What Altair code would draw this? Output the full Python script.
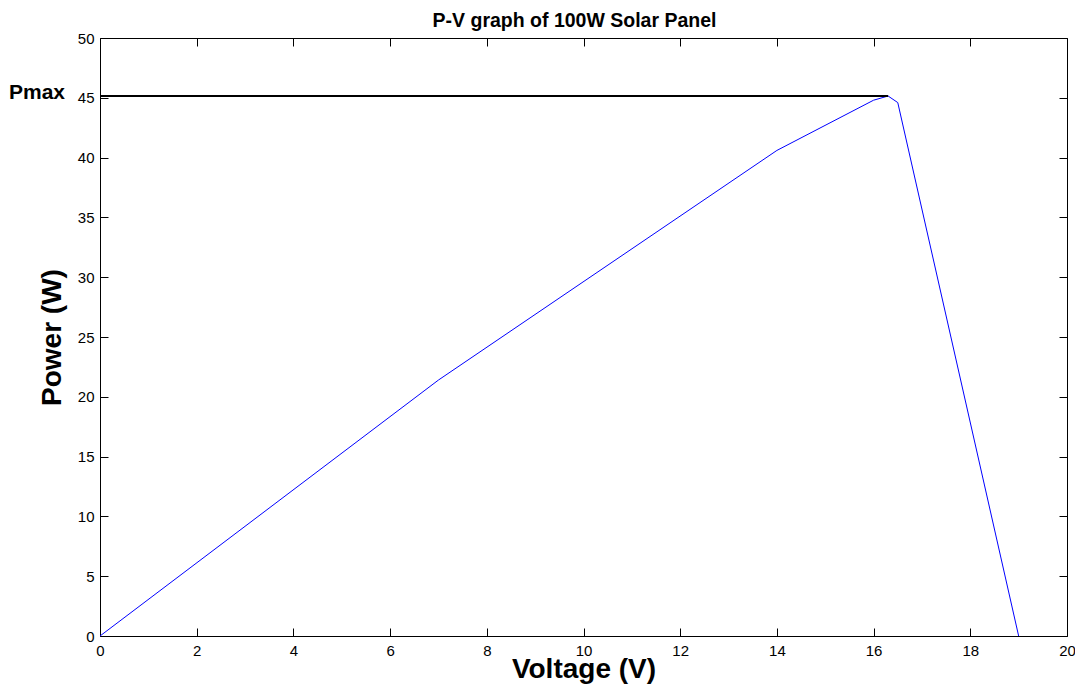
import altair as alt
import pandas as pd

voltage = [0, 7, 14, 16, 16.3, 16.5, 19]
power = [0, 21.4, 40.6, 44.8, 45.15, 44.6, 0]
pmax_v = [0, 16.3]
pmax_p = [45.15, 45.15]
x_ticks = [0, 2, 4, 6, 8, 10, 12, 14, 16, 18, 20]
y_ticks = [0, 5, 10, 15, 20, 25, 30, 35, 40, 45, 50]

curve = pd.DataFrame({"V": voltage, "P": power})
pmax = pd.DataFrame({"V": [pmax_v[0]], "V2": [pmax_v[1]], "P": [pmax_p[0]]})
lbl = pd.DataFrame({"V": [0], "P": [pmax_p[0]], "t": ["Pmax"]})

W, H = 967, 598
FONT = "Liberation Sans"
xs = alt.Scale(domain=[0, 20], nice=False)
ys = alt.Scale(domain=[0, 50], nice=False)

common = dict(domain=False, grid=False, tickSize=8, offset=-8, tickColor="black",
              tickWidth=1, labelFont=FONT, labelFontSize=15, labelColor="black",
              labelFlush=False, labelOverlap=False,
              titleFont=FONT, titleFontWeight="bold", titleFontSize=28, titleColor="black")

x_bottom = alt.Axis(orient="bottom", values=x_ticks, labelPadding=7, title="Voltage (V)",
                    titleX=W / 2, titleY=49, titleBaseline="alphabetic", **common)
y_left = alt.Axis(orient="left", values=y_ticks, labelPadding=6, title="Power (W)",
                  titleX=-48, titleY=H / 2, titleBaseline="alphabetic", **common)
x_top = alt.Axis(orient="top", values=x_ticks, labels=False, title=None, **common)
y_right = alt.Axis(orient="right", values=y_ticks, labels=False, title=None, **common)

line = alt.Chart(curve).mark_line(color="#0000ff", strokeWidth=1).encode(
    x=alt.X("V:Q", scale=xs, axis=x_bottom),
    y=alt.Y("P:Q", scale=ys, axis=y_left),
    order=alt.Order("V:Q"),
)

rule = alt.Chart(pmax).mark_rule(color="black", strokeWidth=2).encode(
    x=alt.X("V:Q", scale=xs, axis=x_top),
    x2="V2:Q",
    y=alt.Y("P:Q", scale=ys, axis=y_right),
)

text = alt.Chart(lbl).mark_text(font=FONT, fontSize=21, fontWeight="bold", align="right",
                                baseline="alphabetic", dx=-35, dy=3, color="black").encode(
    x=alt.X("V:Q", scale=xs, axis=None),
    y=alt.Y("P:Q", scale=ys, axis=None),
    text="t:N",
)

chart = alt.layer(line, rule, text).resolve_axis(x="independent", y="independent").properties(
    width=W, height=H,
    autosize=alt.AutoSizeParams(type="none"),
    padding={"left": 92, "top": 30, "right": 8, "bottom": 50},
    title=alt.TitleParams("P-V graph of 100W Solar Panel", font=FONT, fontSize=19.5,
                          fontWeight="bold", color="black", anchor="middle", dx=-9, offset=0),
    background="white",
).configure_view(stroke="black", strokeWidth=1)

chart.save("out.html", embed_options={"renderer": "svg", "actions": False})
